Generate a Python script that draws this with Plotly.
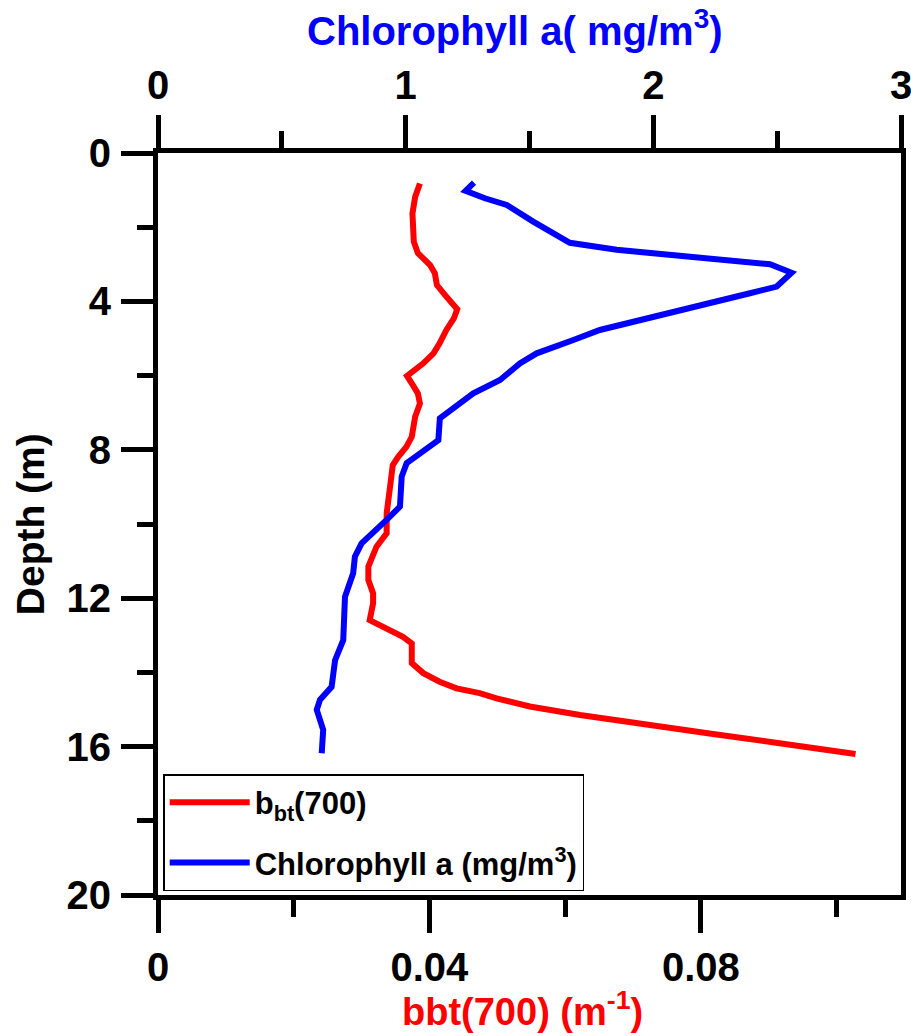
import plotly.graph_objects as go

# ---- data ----
bbt_depth = [0.82, 1.18, 1.63, 2.39, 2.70, 3.02, 3.24, 3.56, 3.87, 4.21, 4.46, 4.77, 5.13, 5.40,
             5.67, 5.85, 6.01, 6.21, 6.48, 6.75, 7.11, 7.65, 7.92, 8.19, 8.41, 9.00, 9.71, 10.25,
             10.61, 11.15, 11.51, 11.87, 12.14, 12.59, 12.86, 13.04, 13.22, 13.75, 14.02, 14.25,
             14.43, 14.56, 14.70, 14.92, 15.15, 15.42, 15.66, 15.91, 16.20]
bbt_value = [0.0386, 0.0379, 0.0375, 0.0377, 0.0383, 0.0401, 0.0408, 0.0411, 0.0425, 0.0441,
             0.0436, 0.0425, 0.0415, 0.0406, 0.0391, 0.0379, 0.0367, 0.0374, 0.0383, 0.0386,
             0.0379, 0.0374, 0.0366, 0.0354, 0.0346, 0.0342, 0.0337, 0.0337, 0.0322, 0.0310,
             0.0310, 0.0317, 0.0317, 0.0312, 0.0342, 0.0361, 0.0374, 0.0374, 0.0391, 0.0415,
             0.0440, 0.0474, 0.0499, 0.0548, 0.0622, 0.0720, 0.0818, 0.0916, 0.1028]

chl_depth = [0.80, 1.02, 1.22, 1.40, 1.85, 2.16, 2.42, 2.61, 2.84, 3.00, 3.23, 3.60, 3.78, 4.23,
             4.77, 5.04, 5.40, 5.67, 6.12, 6.48, 7.15, 7.74, 7.96, 8.36, 8.72, 9.53, 9.89, 10.52,
             10.88, 11.33, 11.96, 13.13, 13.67, 14.39, 14.74, 15.01, 15.55, 16.18]
chl_value = [1.276, 1.242, 1.320, 1.408, 1.515, 1.596, 1.663, 1.852, 2.188, 2.471, 2.558, 2.498,
             2.390, 2.121, 1.784, 1.677, 1.529, 1.461, 1.381, 1.273, 1.138, 1.132, 1.085, 1.004,
             0.984, 0.977, 0.923, 0.822, 0.795, 0.788, 0.755, 0.748, 0.715, 0.701, 0.654, 0.641,
             0.667, 0.661]

depth_ticks = [0, 4, 8, 12, 16, 20]
bbt_ticks = [0, 0.04, 0.08]
bbt_ticktext = ["0", "0.04", "0.08"]
chl_ticks = [0, 1, 2, 3]

FONT = "Liberation Sans, Arial, sans-serif"

fig = go.Figure()
fig.add_trace(go.Scatter(x=bbt_value, y=bbt_depth, mode="lines", name="b<sub>bt</sub>(700)",
                         legendgroup="g1",
                         line=dict(color="#ff0000", width=6), xaxis="x", yaxis="y"))
fig.add_trace(go.Scatter(x=chl_value, y=chl_depth, mode="lines",
                         name="Chlorophyll a (mg/m<sup>3</sup>)", legendgroup="g2",
                         line=dict(color="#0000ff", width=6), xaxis="x2", yaxis="y"))

tickfont = dict(family=FONT, size=40, color="black", weight="bold")

fig.update_layout(
    width=911, height=1036,
    margin=dict(l=158, r=10, t=153, b=141, autoexpand=False),
    paper_bgcolor="white", plot_bgcolor="white",
    showlegend=True,
    legend=dict(x=0.007, y=0.163, xanchor="left", yanchor="top",
                bgcolor="white", bordercolor="black", borderwidth=1.5,
                font=dict(family=FONT, size=31, color="black", weight="bold"),
                itemwidth=80, tracegroupgap=17),
    xaxis=dict(range=[0, 0.1095], tickvals=bbt_ticks, ticktext=bbt_ticktext,
               ticks="outside", ticklen=33, tickwidth=5, tickcolor="black",
               showline=True, linewidth=5, linecolor="black", automargin=False,
               showgrid=False, zeroline=False, tickfont=tickfont,
               minor=dict(dtick=0.02, tick0=0, ticks="outside", ticklen=17, tickwidth=5,
                          tickcolor="black", showgrid=False)),
    xaxis2=dict(range=[0, 3], tickvals=chl_ticks, overlaying="x", side="top",
                ticks="outside", ticklen=33, tickwidth=5, tickcolor="black",
                showline=True, linewidth=5, linecolor="black", automargin=False,
                showgrid=False, zeroline=False, tickfont=tickfont,
                ticklabeloverflow="allow",
                minor=dict(dtick=0.5, tick0=0, ticks="outside", ticklen=17, tickwidth=5,
                           tickcolor="black", showgrid=False)),
    yaxis=dict(range=[20, 0], tickvals=depth_ticks,
               ticks="outside", ticklen=32, tickwidth=5, tickcolor="black",
               showline=True, linewidth=5, linecolor="black", mirror=True, automargin=False,
               showgrid=False, zeroline=False, tickfont=tickfont, ticklabelstandoff=2,
               minor=dict(dtick=2, tick0=0, ticks="outside", ticklen=16, tickwidth=5,
                          tickcolor="black", showgrid=False)),
    annotations=[
        dict(text="Chlorophyll a( mg/m<sup>3</sup>)", xref="paper", yref="paper",
             x=0.48, y=1.168, xanchor="center", yanchor="middle", showarrow=False,
             font=dict(family=FONT, size=40, color="#0000ff", weight="bold")),
        dict(text="bbt(700) (m<sup>-1</sup>)", xref="paper", yref="paper",
             x=0.49, y=-0.153, xanchor="center", yanchor="middle", showarrow=False,
             font=dict(family=FONT, size=38, color="#ff0000", weight="bold")),
        dict(text="Depth (m)", xref="paper", yref="paper", textangle=-90,
             x=-0.172, y=0.5, xanchor="center", yanchor="middle", showarrow=False,
             font=dict(family=FONT, size=39, color="black", weight="bold")),
    ],
)

fig.write_html("out.html")
